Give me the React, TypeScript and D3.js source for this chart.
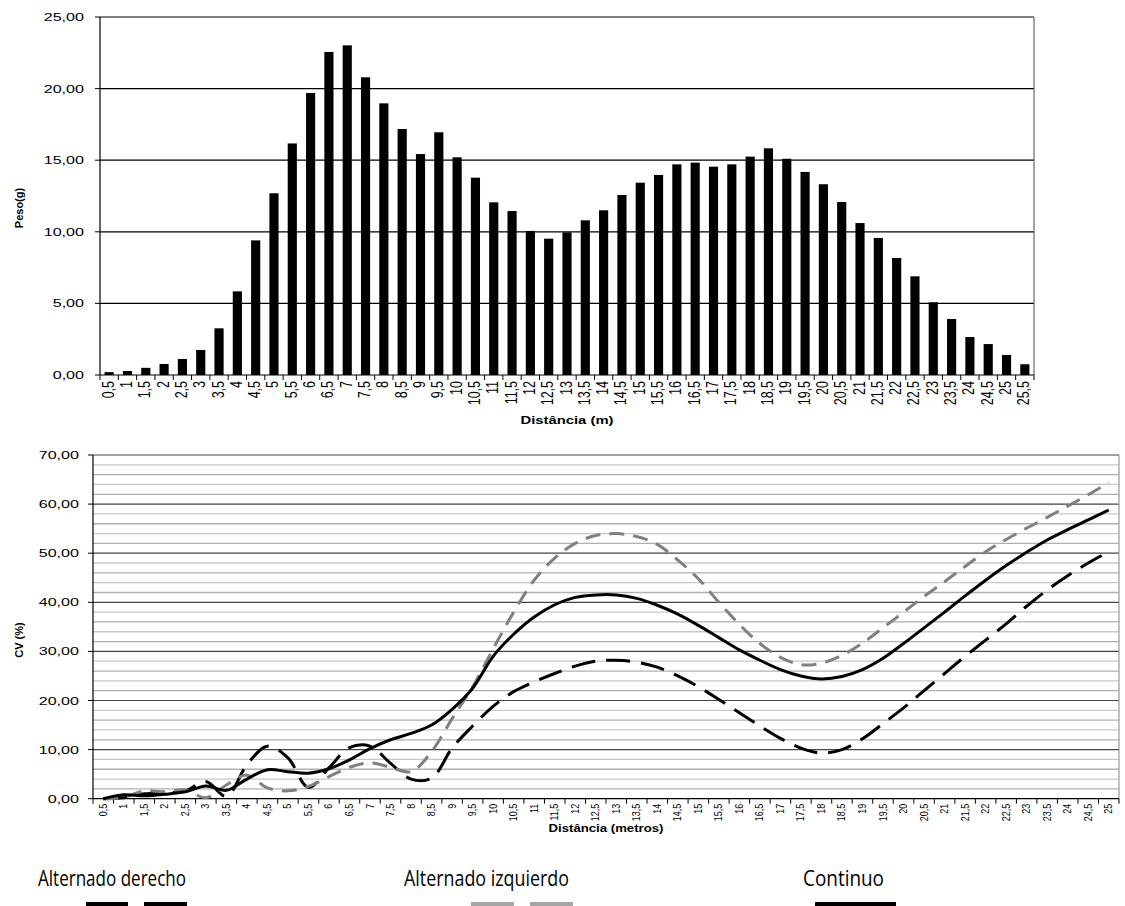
import { useEffect, useRef } from "react";
import * as d3 from "d3";

// Peso (g) por distância - barras
const pesoLabels = [
  "0,5", "1", "1,5", "2", "2,5", "3", "3,5", "4", "4,5", "5", "5,5", "6", "6,5", "7", "7,5", "8", "8,5",
  "9", "9,5", "10", "10,5", "11", "11,5", "12", "12,5", "13", "13,5", "14", "14,5", "15", "15,5", "16",
  "16,5", "17", "17,5", "18", "18,5", "19", "19,5", "20", "20,5", "21", "21,5", "22", "22,5", "23",
  "23,5", "24", "24,5", "25", "25,5",
];
const pesoValues = [
  0.2, 0.28, 0.5, 0.77, 1.12, 1.75, 3.26, 5.84, 9.4, 12.69, 16.17, 19.69, 22.56, 23.02, 20.79, 18.97,
  17.18, 15.43, 16.95, 15.2, 13.78, 12.06, 11.45, 10.06, 9.52, 9.96, 10.8, 11.5, 12.57, 13.43, 13.97,
  14.71, 14.83, 14.55, 14.71, 15.25, 15.83, 15.1, 14.18, 13.32, 12.08, 10.61, 9.57, 8.17, 6.89, 5.08,
  3.91, 2.65, 2.16, 1.4, 0.75,
];
const pesoTicks = [0, 5, 10, 15, 20, 25];

// CV (%) por distância - linhas
const cvLabels = pesoLabels.slice(0, 50);
const alternadoDerecho = [
  0, 0.2, 1.0, 1.2, 1.6, 3.5, 0.5, 6.9, 10.7, 8.3, 2.3, 6.3, 10.4, 10.7, 7.2, 4.0, 4.2, 10.3, 14.8,
  18.8, 21.8, 23.8, 25.5, 27.0, 28.0, 28.2, 27.8, 26.8, 25.0, 22.8, 20.2, 17.5, 14.8, 12.3, 10.3, 9.3,
  10.0, 12.2, 15.3, 18.5, 22.0, 25.5, 29.0, 32.3, 35.6, 39.2, 42.5, 45.4, 48.0, 50.3,
];
const alternadoIzquierdo = [
  0, 0.3, 1.6, 1.4, 1.8, 0.2, 2.8, 4.8, 2.2, 1.6, 2.5, 4.5, 6.4, 7.3, 6.4, 5.5, 9.6, 16.3, 22.8, 30.5,
  38.0, 44.5, 49.0, 52.0, 53.6, 54.0, 53.4, 51.8, 48.6, 44.8, 40.0, 35.5, 31.6, 28.8, 27.3, 27.6, 29.2,
  31.7, 34.8, 38.0, 41.2, 44.2, 47.3, 50.3, 52.8, 55.1, 57.3, 59.6, 61.9, 64.4,
];
const continuo = [
  0, 0.8, 0.6, 0.9, 1.4, 2.6, 1.7, 4.0, 5.9, 5.5, 5.2, 6.1, 7.9, 10.2, 12.0, 13.3, 15.0, 18.2, 22.5,
  29.0, 33.5, 37.0, 39.5, 41.0, 41.5, 41.5, 40.8, 39.4, 37.6, 35.3, 32.8, 30.3, 28.2, 26.3, 25.0, 24.4,
  24.9, 26.3, 28.6, 31.6, 34.8, 38.0, 41.3, 44.5, 47.5, 50.2, 52.7, 54.8, 56.8, 58.8,
];
const cvTicks = [0, 10, 20, 30, 40, 50, 60, 70];
const cvMinor = d3.range(0, 70, 2).filter((v) => v % 10 !== 0);

const fmt = (v: number) => v.toFixed(2).replace(".", ",");
const font = "Arial, 'Liberation Sans', Helvetica, sans-serif";

const App = () => {
  const chartRef = useRef<SVGSVGElement>(null);

  useEffect(() => {
    document.body.style.margin = "0";
    const svg = d3.select(chartRef.current);
    svg.selectAll("*").remove(); // Clear previous render

    // ===== Top chart: Peso(g) =====
    const x1 = d3.scaleBand().domain(pesoLabels).range([100, 1034]).padding(0);
    const y1 = d3.scaleLinear().domain([0, 25]).range([375, 17]);
    const top = svg.append("g");

    top.append("g")
      .selectAll("line")
      .data(pesoTicks.slice(1))
      .join("line")
      .attr("x1", 100).attr("x2", 1034)
      .attr("y1", (d) => y1(d)).attr("y2", (d) => y1(d))
      .attr("stroke", "#000").attr("stroke-width", 1.2);

    top.append("line")
      .attr("x1", 1034).attr("x2", 1034).attr("y1", y1(25)).attr("y2", y1(0))
      .attr("stroke", "#666").attr("stroke-width", 1.2);

    // bars
    top.append("g")
      .attr("fill", "#000")
      .selectAll("rect")
      .data(pesoValues)
      .join("rect")
      .attr("x", (d, i) => (x1(pesoLabels[i]) as number) + x1.bandwidth() * 0.25)
      .attr("width", x1.bandwidth() * 0.5)
      .attr("y", (d) => y1(d))
      .attr("height", (d) => y1(0) - y1(d));

    // y axis
    top.append("line").attr("x1", 100).attr("x2", 100).attr("y1", y1(25)).attr("y2", y1(0))
      .attr("stroke", "#000").attr("stroke-width", 1.2);
    top.append("g").selectAll("line").data(pesoTicks).join("line")
      .attr("x1", 95).attr("x2", 100).attr("y1", (d) => y1(d)).attr("y2", (d) => y1(d))
      .attr("stroke", "#000");
    top.append("g").selectAll("text").data(pesoTicks).join("text")
      .attr("transform", (d) => `translate(84,${y1(d) + 4}) scale(1.4,1)`)
      .attr("text-anchor", "end")
      .attr("font-family", font).attr("font-size", 11.5).attr("fill", "#000")
      .text((d) => fmt(d));

    // x axis
    top.append("line").attr("x1", 100).attr("x2", 1034).attr("y1", y1(0)).attr("y2", y1(0))
      .attr("stroke", "#000").attr("stroke-width", 1.2);
    const b1 = [...pesoLabels.map((l) => x1(l) as number), 1034];
    top.append("g").selectAll("line").data(b1).join("line")
      .attr("x1", (d) => d).attr("x2", (d) => d).attr("y1", y1(0)).attr("y2", y1(0) + 5)
      .attr("stroke", "#000");
    top.append("g").selectAll("text").data(pesoLabels).join("text")
      .attr("transform", (d) => `translate(${(x1(d) as number) + x1.bandwidth() / 2 + 4.5},${y1(0) + 6}) rotate(-90) scale(1,1.25)`)
      .attr("text-anchor", "end")
      .attr("font-family", font).attr("font-size", 12.5).attr("fill", "#000")
      .text((d) => d);

    top.append("text")
      .attr("transform", `translate(567,424) scale(1.35,1)`)
      .attr("text-anchor", "middle").attr("font-family", font).attr("font-size", 11)
      .attr("font-weight", "bold").text("Distância (m)");
    top.append("text")
      .attr("transform", `translate(23,208) rotate(-90)`)
      .attr("text-anchor", "middle").attr("font-family", font).attr("font-size", 11)
      .attr("font-weight", "bold").text("Peso(g)");

    // ===== Bottom chart: CV (%) =====
    const x2 = d3.scaleBand().domain(cvLabels).range([93, 1119]).padding(0);
    const y2 = d3.scaleLinear().domain([0, 70]).range([798.7, 455]);
    const bot = svg.append("g");

    bot.append("g").selectAll("line").data(cvMinor).join("line")
      .attr("x1", 93).attr("x2", 1119)
      .attr("y1", (d) => y2(d)).attr("y2", (d) => y2(d))
      .attr("stroke", (d, i) => (i % 2 ? "#c8c8c8" : "#b0b0b0")).attr("stroke-width", 1.3);
    bot.append("g").selectAll("line").data(cvTicks.slice(1)).join("line")
      .attr("x1", 93).attr("x2", 1119)
      .attr("y1", (d) => y2(d)).attr("y2", (d) => y2(d))
      .attr("stroke", "#444").attr("stroke-width", 1.2);
    bot.append("line")
      .attr("x1", 1119).attr("x2", 1119).attr("y1", y2(70)).attr("y2", y2(0))
      .attr("stroke", "#999").attr("stroke-width", 1.2);

    // y axis
    bot.append("line").attr("x1", 93).attr("x2", 93).attr("y1", y2(70)).attr("y2", y2(0))
      .attr("stroke", "#000").attr("stroke-width", 1.2);
    bot.append("g").selectAll("line").data(cvTicks).join("line")
      .attr("x1", 88).attr("x2", 93).attr("y1", (d) => y2(d)).attr("y2", (d) => y2(d))
      .attr("stroke", "#000");
    bot.append("g").selectAll("text").data(cvTicks).join("text")
      .attr("transform", (d) => `translate(79,${y2(d) + 4}) scale(1.4,1)`)
      .attr("text-anchor", "end")
      .attr("font-family", font).attr("font-size", 11.5).attr("fill", "#000")
      .text((d) => fmt(d));

    // x axis
    bot.append("line").attr("x1", 93).attr("x2", 1119).attr("y1", y2(0)).attr("y2", y2(0))
      .attr("stroke", "#000").attr("stroke-width", 1.2);
    const b2 = [...cvLabels.map((l) => x2(l) as number), 1119];
    bot.append("g").selectAll("line").data(b2).join("line")
      .attr("x1", (d) => d).attr("x2", (d) => d).attr("y1", y2(0)).attr("y2", y2(0) + 5)
      .attr("stroke", "#000");
    bot.append("g").selectAll("text").data(cvLabels).join("text")
      .attr("transform", (d) => `translate(${(x2(d) as number) + x2.bandwidth() / 2 + 3.5},${y2(0) + 5}) rotate(-90) scale(1,1.3)`)
      .attr("text-anchor", "end")
      .attr("font-family", font).attr("font-size", 9).attr("fill", "#000")
      .text((d) => d);

    bot.append("text")
      .attr("transform", `translate(606,832) scale(1.2,1)`)
      .attr("text-anchor", "middle").attr("font-family", font).attr("font-size", 11)
      .attr("font-weight", "bold").text("Distância (metros)");
    bot.append("text")
      .attr("transform", `translate(23,640) rotate(-90)`)
      .attr("text-anchor", "middle").attr("font-family", font).attr("font-size", 11)
      .attr("font-weight", "bold").text("CV (%)");

    // lines
    const line = d3.line<number>()
      .x((d, i) => (x2(cvLabels[i]) as number) + x2.bandwidth() / 2)
      .y((d) => y2(d))
      .curve(d3.curveCatmullRom.alpha(0.5));

    const series = [
      { values: alternadoDerecho, color: "#000", dash: "24 11" },
      { values: alternadoIzquierdo, color: "#808080", dash: "15 9" },
      { values: continuo, color: "#000", dash: null },
    ];
    bot.append("g").selectAll("path").data(series).join("path")
      .attr("d", (d) => line(d.values))
      .attr("fill", "none")
      .attr("stroke", (d) => d.color)
      .attr("stroke-width", 3)
      .attr("stroke-dasharray", (d) => d.dash);

    // ===== Legend =====
    const legend = [
      { label: "Alternado derecho", x: 38, w: 148, color: "#000", segs: [[86, 128], [144, 187]] },
      { label: "Alternado izquierdo", x: 404, w: 165, color: "#a6a6a6", segs: [[471, 514], [530, 573]] },
      { label: "Continuo", x: 803, w: 81, color: "#000", segs: [[815, 896]] },
    ];
    const lg = svg.append("g");
    legend.forEach((l) => {
      lg.append("text")
        .attr("x", l.x).attr("y", 886)
        .attr("font-family", "'Open Sans', 'Noto Sans', sans-serif").attr("font-size", 21)
        .attr("textLength", l.w).attr("lengthAdjust", "spacingAndGlyphs")
        .attr("fill", "#000").text(l.label);
      l.segs.forEach(([a, b]) => {
        lg.append("rect").attr("x", a).attr("y", 902).attr("width", b - a).attr("height", 5)
          .attr("fill", l.color);
      });
    });
  }, []);

  return (
    <div style={{ width: 1125, height: 906 }}>
      <svg ref={chartRef} width={1125} height={906} style={{ display: "block", background: "#fff" }}></svg>
    </div>
  );
};

export default App;
